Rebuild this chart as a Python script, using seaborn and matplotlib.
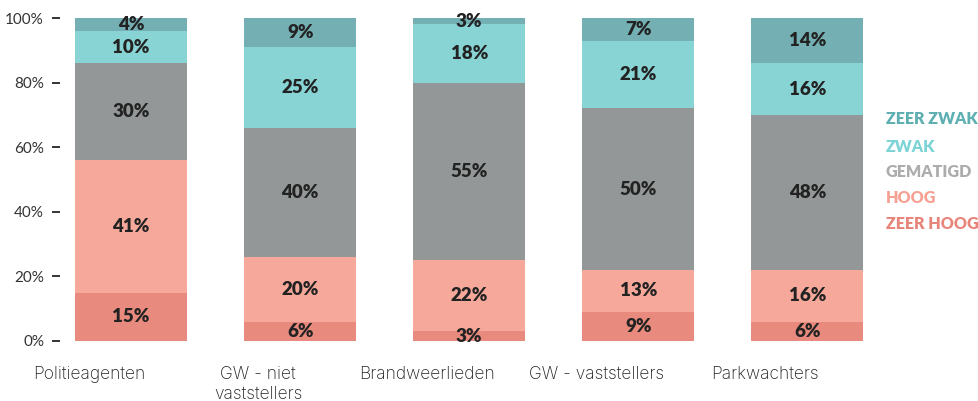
import pandas as pd
import matplotlib.pyplot as plt
import matplotlib.transforms as mtransforms
import seaborn as sns

# Data
groups = ['Politieagenten', 'GW - niet\nvaststellers', 'Brandweerlieden',
          'GW - vaststellers', 'Parkwachters']
levels = ['ZEER ZWAK', 'ZWAK', 'GEMATIGD', 'HOOG', 'ZEER HOOG']
zeer_hoog = [15, 6, 3, 9, 6]
hoog = [41, 20, 22, 13, 16]
gematigd = [30, 40, 55, 50, 48]
zwak = [10, 25, 18, 21, 16]
zeer_zwak = [4, 9, 3, 7, 14]

bar_colors = ['#74AFB3', '#88D3D4', '#939797', '#F6A89A', '#E88A7D']
text_colors = ['#5DAFB1', '#7DD4D6', '#ACACAC', '#F6A193', '#E8857A']

# Long-format table
rows = []
for lvl, vals in zip(levels, [zeer_zwak, zwak, gematigd, hoog, zeer_hoog]):
    for g, v in zip(groups, vals):
        rows.append({'group': g, 'level': lvl, 'value': v})
df = pd.DataFrame(rows)
df['group'] = pd.Categorical(df['group'], categories=groups, ordered=True)

sns.set_style('white')
plt.rcParams['font.family'] = ['Lato', 'DejaVu Sans']

fig = plt.figure(figsize=(9.79, 4.01), dpi=100)
ax = fig.add_axes([60 / 979, 60 / 401, 810 / 979, 323 / 401])

sns.histplot(data=df, x='group', weights='value', hue='level',
             hue_order=levels, multiple='stack', discrete=True, shrink=0.663,
             palette=bar_colors, alpha=1, linewidth=0, legend=False, ax=ax)

for c in ax.containers:
    ax.bar_label(c, fmt='%.0f%%', label_type='center', fontsize=13.5,
                 fontweight='heavy', color='#222222')

ax.set_xlim(-0.42, 4.37)
ax.set_ylim(0, 100)
ax.set_yticks([0, 20, 40, 60, 80, 100])
ax.set_yticklabels([f'{t}%' for t in [0, 20, 40, 60, 80, 100]])
ax.set_xticks(range(len(groups)))
ax.set_xticklabels(groups, fontfamily='Inter', fontweight='light',
                   fontsize=12.5, color='#222222', multialignment='center')
ax.set_xlabel('')
ax.set_ylabel('')
ax.tick_params(axis='x', length=0, pad=18)
ax.tick_params(axis='y', left=True, length=5.5, width=1.4, color='#333333',
               pad=6, labelsize=11, labelcolor='#333333')
for s in ax.spines.values():
    s.set_visible(False)

offset = mtransforms.ScaledTranslation(-42 / 100, 0, fig.dpi_scale_trans)
for lab in ax.get_xticklabels():
    lab.set_transform(lab.get_transform() + offset)

# Legend as coloured text on the right
legend_y = [119, 147, 172, 198, 224]
for lvl, col, y in zip(levels, text_colors, legend_y):
    fig.text(886 / 979, 1 - y / 401, lvl, color=col, fontsize=11.5,
             fontweight='heavy', va='center', ha='left')

plt.savefig('out.png', dpi=100)
